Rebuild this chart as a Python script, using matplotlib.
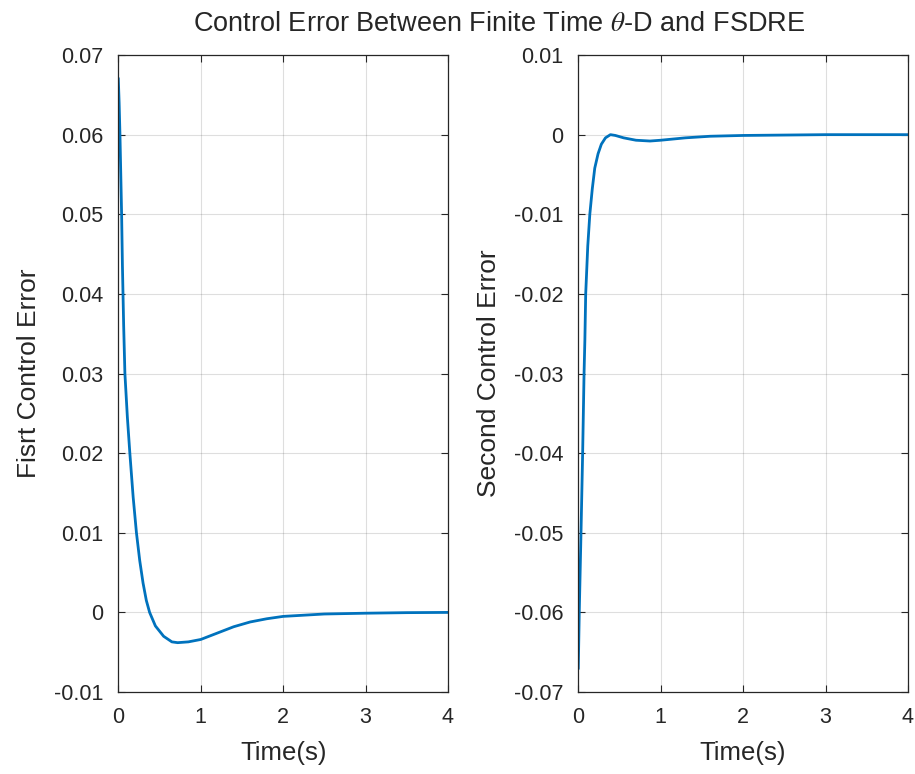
import matplotlib
matplotlib.use("Agg")
import matplotlib.pyplot as plt

plt.rcParams['font.family'] = ['Liberation Sans', 'DejaVu Sans']
plt.rcParams['mathtext.fontset'] = 'stix'

# first control error
t1 = [0.0, 0.01, 0.02, 0.03, 0.04, 0.05, 0.065, 0.08, 0.11, 0.14, 0.18,
      0.22, 0.26, 0.30, 0.34, 0.38, 0.45, 0.55, 0.65, 0.72, 0.85, 1.0,
      1.2, 1.4, 1.6, 1.8, 2.0, 2.5, 3.0, 3.5, 4.0]
e1 = [0.067, 0.064, 0.060, 0.055, 0.050, 0.0435, 0.036, 0.030, 0.0245,
      0.020, 0.0145, 0.010, 0.0065, 0.0037, 0.0015, 0.0, -0.0017, -0.0030,
      -0.0037, -0.0038, -0.0037, -0.0034, -0.0026, -0.0018, -0.0012,
      -0.0008, -0.0005, -0.0002, -0.0001, -0.00003, 0.0]

# second control error
t2 = [0.0, 0.012, 0.033, 0.053, 0.07, 0.08, 0.09, 0.115, 0.14, 0.17, 0.2,
      0.24, 0.28, 0.33, 0.39, 0.45, 0.55, 0.7, 0.87, 1.0, 1.3, 1.6, 2.0,
      3.0, 4.0]
e2 = [-0.067, -0.060, -0.050, -0.040, -0.030, -0.0258, -0.020, -0.014,
      -0.010, -0.0068, -0.0042, -0.0024, -0.0012, -0.0004, 0.0, -0.0001,
      -0.0004, -0.0007, -0.0008, -0.0007, -0.0004, -0.0002, -0.0001, 0.0,
      0.0]

x_ticks = [0, 1, 2, 3, 4]
y1_ticks = [-0.01, 0, 0.01, 0.02, 0.03, 0.04, 0.05, 0.06, 0.07]
y1_labels = ['-0.01', '0', '0.01', '0.02', '0.03', '0.04', '0.05', '0.06', '0.07']
y2_ticks = [-0.07, -0.06, -0.05, -0.04, -0.03, -0.02, -0.01, 0, 0.01]
y2_labels = ['-0.07', '-0.06', '-0.05', '-0.04', '-0.03', '-0.02', '-0.01', '0', '0.01']

line_color = '#0072BD'
ink = '#262626'
fs_tick = 15.5
fs_label = 18.5

fig = plt.figure(figsize=(9.15, 7.74), dpi=100)
ax1 = fig.add_axes([0.1293, 0.1059, 0.3603, 0.823])
ax2 = fig.add_axes([0.632, 0.1059, 0.3603, 0.823])


def style(ax, yt, yl, ylabel):
    ax.set_xlim(0, 4)
    ax.set_ylim(yt[0], yt[-1])
    ax.set_xticks(x_ticks)
    ax.set_xticklabels([str(v) for v in x_ticks])
    ax.set_yticks(yt)
    ax.set_yticklabels(yl)
    ax.grid(True, color='#262626', alpha=0.15, linewidth=0.8)
    ax.set_axisbelow(True)
    ax.tick_params(direction='in', top=True, right=True, length=5,
                   width=0.8, colors=ink, labelsize=fs_tick)
    ax.tick_params(axis='y', pad=11)
    ax.tick_params(axis='x', pad=11)
    for s in ax.spines.values():
        s.set_color(ink)
        s.set_linewidth(0.9)
    ax.set_xlabel('Time(s)', fontsize=fs_label, color=ink, labelpad=9)
    ax.set_ylabel(ylabel, fontsize=fs_label + 0.5, color=ink, labelpad=9)


ax1.plot(t1, e1, color=line_color, linewidth=2)
style(ax1, y1_ticks, y1_labels, 'Fisrt Control Error')

ax2.plot(t2, e2, color=line_color, linewidth=2)
style(ax2, y2_ticks, y2_labels, 'Second Control Error')

fig.text(0.546, 1 - 24 / 774, r'Control Error Between Finite Time $\theta$-D and FSDRE',
         ha='center', va='center', fontsize=19.5, color=ink)

fig.savefig('out.png', dpi=100)
